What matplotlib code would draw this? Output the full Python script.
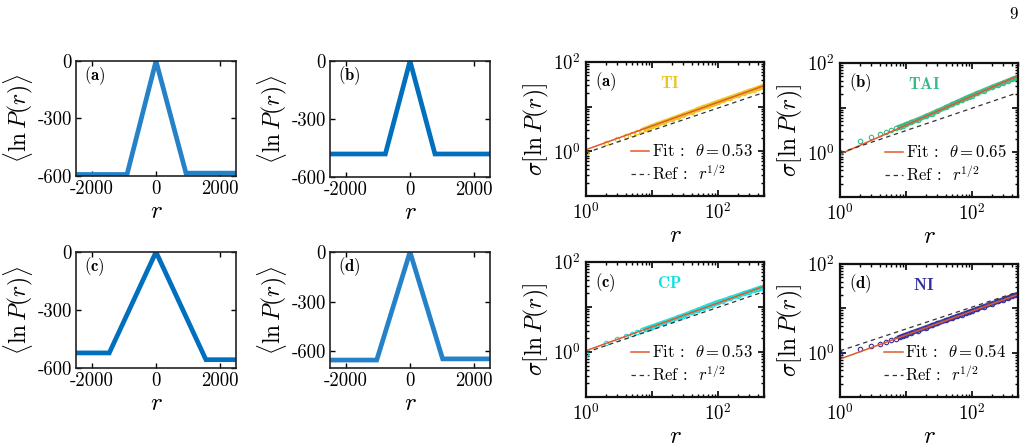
import numpy as np
import matplotlib
matplotlib.use("Agg")
import matplotlib.pyplot as plt

plt.rcParams["font.family"] = "cmr10"
plt.rcParams["mathtext.fontset"] = "cm"
plt.rcParams["axes.unicode_minus"] = False
plt.rcParams["axes.formatter.use_mathtext"] = True

# ---- left column: <ln P(r)> profiles (break points of each curve)
prof_r = {
    "a": [-2500, -906, 0, 937, 2500],
    "b": [-2500, -770, 0, 780, 2500],
    "c": [-2500, -1460, 0, 1560, 2500],
    "d": [-2500, -1040, 0, 1020, 2500],
}
prof_v = {
    "a": [-592, -592, 0, -585, -585],
    "b": [-481, -481, 0, -481, -481],
    "c": [-522, -522, 0, -557, -557],
    "d": [-652, -652, 0, -645, -645],
}
prof_ylim = {"a": (-600, 0), "b": (-600, 0), "c": (-600, 0), "d": (-700, 0)}
prof_col = {"a": "#2582c8", "b": "#0070be", "c": "#0070be", "d": "#2582c8"}

# ---- right column: sigma[ln P(r)] vs r
r_pts = [1, 2, 3, 4, 5, 6, 7, 8, 9, 10, 12, 15, 20, 25, 30, 40, 50, 60, 70, 80,
         90, 100, 120, 150, 200, 250, 300, 350, 400, 450, 500]
sig_TI = [0.90, 1.50, 1.88, 2.20, 2.48, 2.74, 2.98, 3.20, 3.41, 3.61, 3.99, 4.50,
          5.26, 5.93, 6.55, 7.66, 8.66, 9.58, 10.4, 11.2, 11.9, 12.6, 13.9, 15.6,
          18.1, 20.3, 22.3, 24.1, 25.8, 27.4, 28.9]
sig_TAI = [1.00, 1.80, 2.24, 2.58, 2.86, 3.17, 3.46, 3.72, 3.97, 4.22, 4.68, 5.35,
           6.40, 7.40, 8.35, 10.1, 11.8, 13.3, 14.8, 16.2, 17.5, 18.7, 20.9, 24.0,
           28.6, 32.6, 36.2, 39.6, 42.8, 45.8, 48.6]
sig_CP = [0.90, 1.58, 1.95, 2.27, 2.55, 2.80, 3.03, 3.25, 3.45, 3.64, 4.00, 4.50,
          5.20, 5.85, 6.45, 7.60, 8.60, 9.60, 10.5, 11.3, 12.0, 12.7, 13.9, 15.5,
          17.9, 20.0, 21.9, 23.6, 25.2, 26.7, 28.0]
sig_NI = [1.00, 1.23, 1.44, 1.59, 1.74, 1.89, 2.03, 2.22, 2.38, 2.52, 2.78, 3.14,
          3.66, 4.12, 4.55, 5.32, 6.00, 6.62, 7.20, 7.74, 8.25, 8.74, 9.64, 10.9,
          12.7, 14.3, 15.8, 17.2, 18.5, 19.7, 20.8]
r_ends = [1, 500]
fit_ends = {"a": [1.09, 29.4], "b": [0.91, 51.8], "c": [1.07, 28.8], "d": [0.72, 20.6]}
ref_ends = {"a": [0.93, 20.8], "b": [0.97, 21.7], "c": [0.98, 21.9], "d": [1.10, 23.5]}
theta = {"a": "0.53", "b": "0.65", "c": "0.53", "d": "0.54"}
names = {"a": "TI", "b": "TAI", "c": "CP", "d": "NI"}
sigs = {"a": sig_TI, "b": sig_TAI, "c": sig_CP, "d": sig_NI}
cols = {"a": "#eec51c", "b": "#33bb88", "c": "#17dede", "d": "#2e2e9c"}

W, H = 1027, 448
fig = plt.figure(figsize=(W / 100, H / 100), dpi=100)


def px_axes(x0, y0, x1, y1):
    return fig.add_axes([x0 / W, 1 - y1 / H, (x1 - x0) / W, (y1 - y0) / H])


left_box = {"a": (76, 61, 236, 176), "b": (330, 61, 490, 177),
            "c": (76, 252, 236, 368), "d": (330, 252, 490, 368)}
right_box = {"a": (586, 62, 764, 196), "b": (840, 63, 1018, 197),
             "c": (586, 262, 764, 397), "d": (840, 264, 1018, 397)}

for k, (x0, y0, x1, y1) in left_box.items():
    ax = px_axes(x0, y0, x1, y1)
    ax.plot(prof_r[k], prof_v[k], "-", color=prof_col[k], lw=3.4,
            solid_joinstyle="miter", clip_on=True)
    ax.set_xlim(-2500, 2500); ax.set_ylim(*prof_ylim[k])
    ax.set_xticks([-2000, 0, 2000]); ax.set_xticklabels(["-2000", "0", "2000"])
    ax.set_yticks([-600, -300, 0]); ax.set_yticklabels(["-600", "-300", "0"])
    ax.tick_params(direction="in", top=True, right=True, labelsize=13.5,
                   length=3.5, width=1, pad=3)
    for s in ax.spines.values():
        s.set_linewidth(1.2); s.set_color("#222222")
    ax.set_xlabel(r"$r$", fontsize=18, labelpad=2)
    ax.set_ylabel(r"$\langle \ln P(r) \rangle$", fontsize=17, labelpad=2)
    ax.text(0.05, 0.87, r"$\mathbf{(%s)}$" % k, transform=ax.transAxes,
            fontsize=12, va="center", ha="left")

for k, (x0, y0, x1, y1) in right_box.items():
    ax = px_axes(x0, y0, x1, y1)
    ax.set_xscale("log"); ax.set_yscale("log")
    s = np.array(sigs[k]); r = np.array(r_pts)
    ax.plot(r[r >= 8], s[r >= 8], "-", color=cols[k], lw=3.5, alpha=0.9)
    ax.plot(r, s, "o", mfc="none", mec=cols[k], ms=3.2, mew=0.8)
    ax.plot(r_ends, fit_ends[k], "-", color="#e2592b", lw=1.1,
            label=r"Fit :  $\theta = %s$" % theta[k])
    ax.plot(r_ends, ref_ends[k], "--", color="#333333", lw=0.9, dashes=(3.5, 3),
            label=r"Ref :  $r^{1/2}$")
    ax.set_xlim(1, 500); ax.set_ylim(0.1, 100)
    ax.set_xticks([1, 10, 100]); ax.set_xticklabels([r"$10^0$", "", r"$10^2$"])
    ax.set_yticks([0.1, 1, 10, 100])
    ax.set_yticklabels(["", r"$10^0$", "", r"$10^2$"])
    ax.tick_params(which="both", direction="in", top=True, right=True,
                   labelsize=13.5, pad=4)
    ax.tick_params(which="major", length=4, width=1.2)
    ax.tick_params(which="minor", length=2.2, width=1)
    ax.xaxis.set_minor_formatter(plt.NullFormatter())
    ax.yaxis.set_minor_formatter(plt.NullFormatter())
    for sp in ax.spines.values():
        sp.set_linewidth(1.6); sp.set_color("#111111")
    ax.set_xlabel(r"$r$", fontsize=18, labelpad=2)
    ax.set_ylabel(r"$\sigma[\ln P(r)]$", fontsize=17, labelpad=1)
    ax.text(0.05, 0.85, r"$\mathbf{(%s)}$" % k, transform=ax.transAxes,
            fontsize=12, va="center", ha="left")
    ax.text(0.47, 0.845, r"$\mathbf{%s}$" % names[k], transform=ax.transAxes,
            fontsize=12, va="center", ha="center", color=cols[k])
    ax.legend(loc="lower right", bbox_to_anchor=(1.0, 0.01), frameon=False,
              fontsize=12, handlelength=1.1, handletextpad=0.15,
              labelspacing=0.25, borderaxespad=0.3)

fig.text(1013 / W, 1 - 14 / H, "9", fontsize=12, ha="center", va="center")

fig.savefig("out.png", dpi=100)
